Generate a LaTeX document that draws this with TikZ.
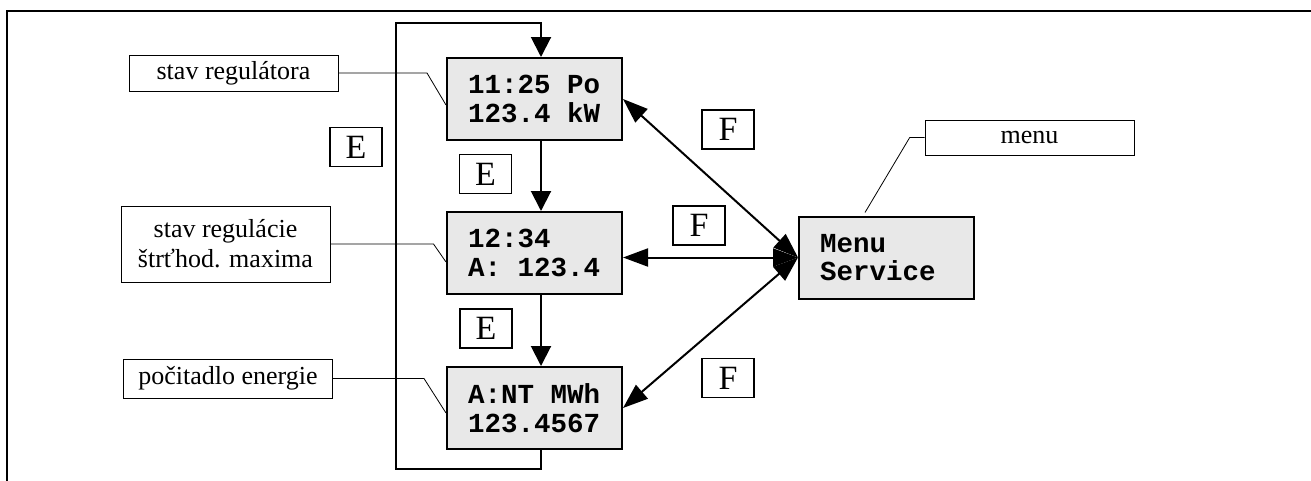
\documentclass[tikz,border=0pt]{standalone}
\usepackage{fontspec}
\setmainfont{Liberation Serif}
\setmonofont{Liberation Mono}
\usetikzlibrary{arrows.meta}
\definecolor{lcdgray}{RGB}{232,232,232}
\newcommand\lcdsp{\hspace*{0.6em}}
\begin{document}
\begin{tikzpicture}[x=1pt,y=-1pt,
  lcd/.style={draw, line width=2pt, fill=lcdgray, minimum width=175pt, minimum height=82pt,
    text width=133pt, inner xsep=21pt, inner ysep=0pt, align=left,
    font=\ttfamily\bfseries\fontsize{27.5}{28.5}\selectfont},
  lbl/.style={draw, line width=1pt, minimum width=209pt, inner sep=0pt, align=center,
    font=\fontsize{26}{30}\selectfont},
  key/.style={draw, line width=1.3pt, minimum width=52pt, minimum height=39pt, inner sep=0pt,
    font=\fontsize{34}{34}\selectfont},
  conn/.style={line width=2pt, -{Triangle[length=20pt,width=20pt]}},
  dconn/.style={line width=2pt, {Triangle[length=25pt,width=18pt]}-{Triangle[length=25pt,width=18pt]}},
  lead/.style={line width=0.8pt}]
\useasboundingbox (0,0) rectangle (1311,480);
% outer frame
\draw[line width=2.5pt] (7,490) -- (7,11) -- (1320,11);
% display boxes
\node[lcd] (b1) at (534.5,99) {11:25\lcdsp Po\\123.4\lcdsp kW};
\node[lcd] (b2) at (534.5,253) {12:34\\A:\lcdsp 123.4};
\node[lcd] (b3) at (534.5,408) {A:NT\lcdsp MWh\\123.4567};
\node[lcd] (m) at (886.5,257.5) {Menu\\Service};
% labels
\node[lbl, minimum height=36pt] (l1) at (233.5,73) {stav regulátora};
\node[lbl, minimum height=76pt] (l2) at (225.5,244) {stav regulácie\\štrťhod. maxima};
\node[lbl, minimum height=39pt] (l3) at (228,378.5) {počitadlo energie};
\node[lbl, minimum height=35pt] (l4) at (1029.5,137.5) {menu};
% keys
\node[key] (e0) at (356,147) {E};
\node[key] (e1) at (485.5,174) {E};
\node[key] (e2) at (486,328.5) {E};
\node[key] (f1) at (728,129.5) {F};
\node[key] (f2) at (699,225.5) {F};
\node[key] (f3) at (728,378) {F};
% coordinates
\coordinate (b1n) at ([xshift=6.5pt]b1.north);
\coordinate (b1s) at ([xshift=6.5pt]b1.south);
\coordinate (b2n) at ([xshift=6.5pt]b2.north);
\coordinate (b2s) at ([xshift=6.5pt]b2.south);
\coordinate (b3n) at ([xshift=6.5pt]b3.north);
\coordinate (b3s) at ([xshift=6.5pt]b3.south);
\coordinate (lb) at (395.6,469);
\coordinate (lt) at (395.6,22.7);
% E connectors
\draw[conn] (b1s) -- (b2n);
\draw[conn] (b2s) -- (b3n);
\draw[conn] (b3s) -- (b3s |- lb) -- (lb) -- (lt) -- (b1n |- lt) -- (b1n);
% F connectors
\draw[dconn] (b1.east) -- (m.west);
\draw[dconn] (m.west -| b2.east) -- (m.west);
\draw[dconn] (b3.east) -- (m.west);
% leaders
\coordinate (k1) at (427,73);
\coordinate (k2) at (433.5,244);
\coordinate (k3) at (424,378.5);
\coordinate (k4) at (909.7,137.5);
\draw[lead] (l1.east) -- (k1) -- ([yshift=-6pt]b1.west);
\draw[lead] (l2.east) -- (k2) -- ([yshift=-9pt]b2.west);
\draw[lead] (l3.east) -- (k3) -- ([yshift=-5pt]b3.west);
\draw[lead] (l4.west) -- (k4) -- ([xshift=-21.5pt,yshift=3pt]m.north);
\end{tikzpicture}
\end{document}
